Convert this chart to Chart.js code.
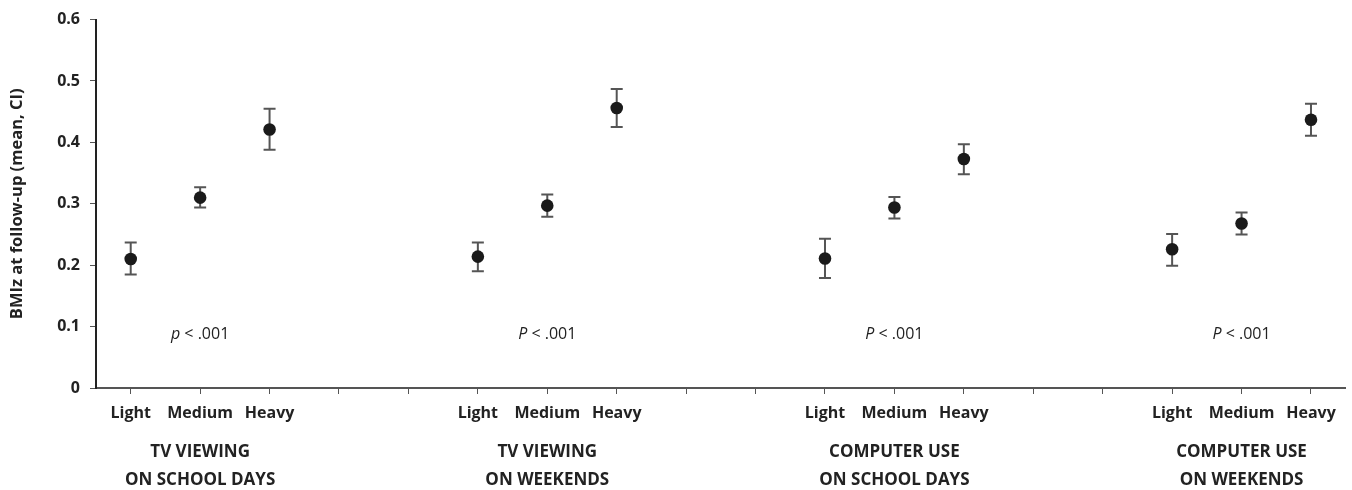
<!DOCTYPE html>
<html>
<head>
<meta charset="utf-8">
<script src="https://cdn.jsdelivr.net/npm/chart.js@4.4.1/dist/chart.umd.min.js"></script>
<style>
  html, body { margin:0; padding:0; background:#fff; }
  #wrap { width:1352px; height:490px; }
</style>
</head>
<body>
<div id="wrap"><canvas id="chart"></canvas></div>
<script>
const levels = ["Light", "Medium", "Heavy"];
const groupTitles = [
  ["TV VIEWING", "ON SCHOOL DAYS"],
  ["TV VIEWING", "ON WEEKENDS"],
  ["COMPUTER USE", "ON SCHOOL DAYS"],
  ["COMPUTER USE", "ON WEEKENDS"]
];
// per group: Light, Medium, Heavy
const means = [[0.210, 0.310, 0.421], [0.214, 0.297, 0.456], [0.211, 0.294, 0.373], [0.226, 0.268, 0.437]];
const lower = [[0.185, 0.294, 0.388], [0.190, 0.279, 0.425], [0.179, 0.276, 0.348], [0.199, 0.250, 0.411]];
const upper = [[0.237, 0.327, 0.455], [0.237, 0.315, 0.487], [0.243, 0.311, 0.397], [0.251, 0.286, 0.463]];
const pLetters = ["p", "P", "P", "P"];
const pText = " < .001";
const pLevel = 0.088;
const yTicks = [0, 0.1, 0.2, 0.3, 0.4, 0.5, 0.6];
const gap = 2; // empty categories between groups

const FONT = "'Open Sans', sans-serif";
const INK = "#222";

// flatten into one category axis
const labels = [], meanData = [], lowData = [], highData = [], medIdx = [];
groupTitles.forEach((g, gi) => {
  levels.forEach((lv, li) => {
    if (li === 1) medIdx.push(labels.length);
    labels.push(lv);
    meanData.push(means[gi][li]);
    lowData.push(lower[gi][li]);
    highData.push(upper[gi][li]);
  });
  if (gi < groupTitles.length - 1) {
    for (let k = 0; k < gap; k++) { labels.push(""); meanData.push(null); lowData.push(null); highData.push(null); }
  }
});

const errorBars = {
  id: "errorBars",
  beforeDatasetsDraw(chart) {
    const { ctx, scales: { x, y } } = chart;
    ctx.save();
    ctx.strokeStyle = "#555";
    ctx.lineWidth = 2;
    meanData.forEach((m, i) => {
      if (m == null) return;
      const px = x.getPixelForValue(i);
      const yl = y.getPixelForValue(lowData[i]);
      const yh = y.getPixelForValue(highData[i]);
      ctx.beginPath();
      ctx.moveTo(px, yl); ctx.lineTo(px, yh);
      ctx.moveTo(px - 6, yl); ctx.lineTo(px + 6, yl);
      ctx.moveTo(px - 6, yh); ctx.lineTo(px + 6, yh);
      ctx.stroke();
    });
    ctx.restore();
  }
};

const annotations = {
  id: "annotations",
  afterDraw(chart) {
    const { ctx, chartArea, scales: { x, y } } = chart;
    ctx.save();
    ctx.fillStyle = INK;
    ctx.textBaseline = "middle";
    // p values
    const py = y.getPixelForValue(pLevel);
    medIdx.forEach((idx, gi) => {
      const cx = x.getPixelForValue(idx);
      ctx.font = "italic 16px " + FONT;
      const w1 = ctx.measureText(pLetters[gi]).width;
      ctx.font = "16px " + FONT;
      const w2 = ctx.measureText(pText).width;
      const left = cx - (w1 + w2) / 2;
      ctx.textAlign = "left";
      ctx.font = "italic 16px " + FONT;
      ctx.fillText(pLetters[gi], left, py);
      ctx.font = "16px " + FONT;
      ctx.fillText(pText, left + w1, py);
    });
    // group titles
    ctx.font = "bold 17px " + FONT;
    ctx.textAlign = "center";
    medIdx.forEach((idx, gi) => {
      const cx = x.getPixelForValue(idx);
      ctx.fillText(groupTitles[gi][0], cx, chartArea.bottom + 64);
      ctx.fillText(groupTitles[gi][1], cx, chartArea.bottom + 92);
    });
    ctx.restore();
  }
};

new Chart(document.getElementById("chart"), {
  type: "line",
  data: {
    labels,
    datasets: [{
      data: meanData,
      showLine: false,
      pointRadius: 6.3,
      pointHoverRadius: 6.3,
      pointBackgroundColor: "#1a1a1a",
      pointBorderColor: "#1a1a1a",
      pointBorderWidth: 0
    }]
  },
  options: {
    responsive: true,
    maintainAspectRatio: false,
    animation: false,
    layout: { padding: { left: 0, right: 3, top: 15, bottom: 0 } },
    plugins: { legend: { display: false }, tooltip: { enabled: false } },
    scales: {
      x: {
        offset: true,
        grid: { display: true, drawOnChartArea: false, offset: false, tickLength: 6, color: "#555", lineWidth: 1 },
        border: { display: true, color: "#555", width: 2 },
        ticks: { color: INK, font: { family: FONT, size: 16, weight: "bold" }, padding: 10, maxRotation: 0, autoSkip: false },
        afterFit: s => { s.height = 102; }
      },
      y: {
        min: 0, max: 0.6,
        afterBuildTicks: s => { s.ticks = yTicks.map(v => ({ value: v })); },
        grid: { display: true, drawOnChartArea: false, tickLength: 6, color: "#555", lineWidth: 1 },
        border: { display: true, color: INK, width: 2 },
        ticks: {
          color: INK, padding: 10,
          font: { family: FONT, size: 16, weight: "bold" },
          callback: v => v === 0 ? "0" : v.toFixed(1)
        },
        title: {
          display: true, text: "BMIz at follow-up (mean, CI)", color: INK,
          font: { family: FONT, size: 16.5, weight: "bold" }, padding: { top: 7, bottom: 0 }
        },
        afterFit: s => { s.width = 96; }
      }
    }
  },
  plugins: [errorBars, annotations]
});
</script>
</body>
</html>
